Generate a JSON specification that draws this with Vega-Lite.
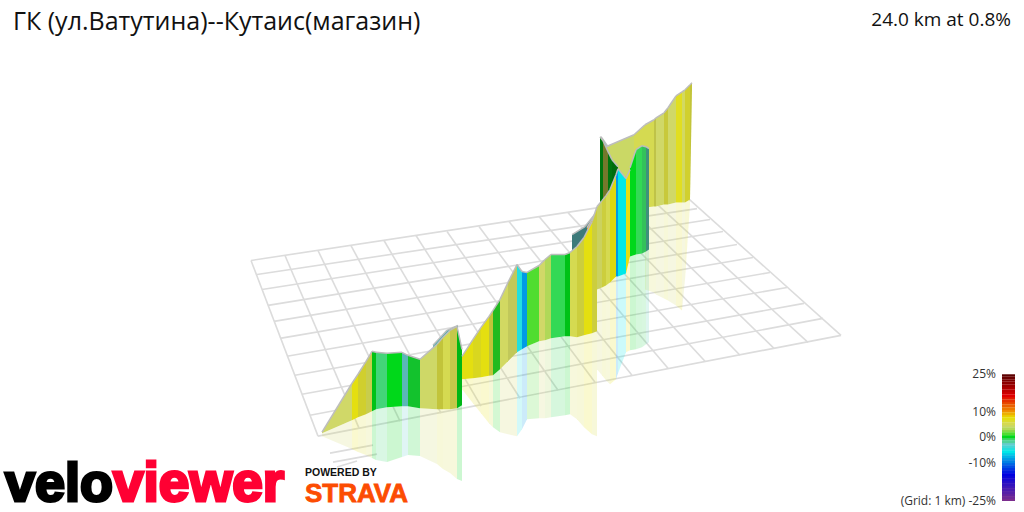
{
  "$schema": "https://vega.github.io/schema/vega-lite/v6.json",
  "width": 1024, "height": 512,
  "autosize": {"type": "fit", "contains": "padding"},
  "padding": 0,
  "background": "white",
  "config": {"view": {"stroke": null}},
  "datasets": {
    "grid": [
      {"l":"c0","x":251,"y":261},{"l":"c0","x":318,"y":437},
      {"l":"c1","x":285,"y":256},{"l":"c1","x":359,"y":429},
      {"l":"c2","x":318,"y":251},{"l":"c2","x":400,"y":422},
      {"l":"c3","x":351,"y":246},{"l":"c3","x":441,"y":414},
      {"l":"c4","x":384,"y":241},{"l":"c4","x":481,"y":407},
      {"l":"c5","x":416,"y":236},{"l":"c5","x":520,"y":399},
      {"l":"c6","x":447,"y":232},{"l":"c6","x":558,"y":391},
      {"l":"c7","x":479,"y":227},{"l":"c7","x":595,"y":383},
      {"l":"c8","x":509,"y":222},{"l":"c8","x":632,"y":376},
      {"l":"c9","x":539,"y":217},{"l":"c9","x":668,"y":369},
      {"l":"c10","x":568,"y":213},{"l":"c10","x":705,"y":362},
      {"l":"c11","x":597,"y":208},{"l":"c11","x":740,"y":356},
      {"l":"c12","x":625,"y":204},{"l":"c12","x":774,"y":349},
      {"l":"c13","x":652,"y":200},{"l":"c13","x":808,"y":343},
      {"l":"c14","x":684,"y":195},{"l":"c14","x":841,"y":336},
      {"l":"r0","x":251,"y":261},{"l":"r0","x":684,"y":195},
      {"l":"r1","x":257,"y":275},{"l":"r1","x":697,"y":209},
      {"l":"r2","x":262,"y":290},{"l":"r2","x":710,"y":220},
      {"l":"r3","x":268,"y":306},{"l":"r3","x":723,"y":232},
      {"l":"r4","x":274,"y":322},{"l":"r4","x":737,"y":245},
      {"l":"r5","x":280,"y":339},{"l":"r5","x":753,"y":258},
      {"l":"r6","x":287,"y":357},{"l":"r6","x":770,"y":273},
      {"l":"r7","x":295,"y":376},{"l":"r7","x":787,"y":288},
      {"l":"r8","x":302,"y":395},{"l":"r8","x":804,"y":304},
      {"l":"r9","x":310,"y":416},{"l":"r9","x":823,"y":319},
      {"l":"r10","x":318,"y":437},{"l":"r10","x":841,"y":336},
      {"l":"z1","x":330,"y":454},{"l":"z1","x":373,"y":446},
      {"l":"z2","x":333,"y":463},{"l":"z2","x":377,"y":455},
      {"l":"z3","x":337,"y":468},{"l":"z3","x":357,"y":462}
    ],
    "ribbon": [
      {"s":"f1","d":0,"g":-4,"k":0.2,"x":433,"t":346,"b":360,"r":360},{"s":"f1","d":0,"g":-4,"k":0.2,"x":447,"t":331,"b":350,"r":350},
      {"s":"f2","d":0,"g":-4,"k":0.2,"x":447,"t":331,"b":350,"r":350},{"s":"f2","d":0,"g":-4,"k":0.2,"x":458,"t":326,"b":345,"r":345},
      {"s":"f3","d":0,"g":-3,"k":0.4,"x":572,"t":235,"b":255,"r":255},{"s":"f3","d":0,"g":-3,"k":0.4,"x":585,"t":227,"b":255,"r":255},
      {"s":"f4","d":0,"g":-3,"k":0.4,"x":585,"t":227,"b":255,"r":255},{"s":"f4","d":0,"g":-3,"k":0.4,"x":597,"t":212,"b":255,"r":255},
      {"s":"f5","d":0,"g":-4,"k":0,"x":601,"t":137,"b":165,"r":165},{"s":"f5","d":0,"g":-4,"k":0,"x":608,"t":147,"b":165,"r":165},
      {"s":"d1","d":0,"g":4.0,"k":0,"x":606,"t":147,"b":210,"r":210},{"s":"d1","d":0,"g":4.0,"k":0,"x":634,"t":135,"b":208,"r":208},
      {"s":"d2","d":0,"g":5,"k":0,"x":634,"t":135,"b":208,"r":208},{"s":"d2","d":0,"g":5,"k":0,"x":645,"t":125,"b":208,"r":208},
      {"s":"d3","d":0,"g":5,"k":0,"x":645,"t":125,"b":208,"r":290},{"s":"d3","d":0,"g":5,"k":0,"x":654,"t":120,"b":207,"r":293},
      {"s":"d4","d":0,"g":5,"k":0.1,"x":654,"t":120,"b":207,"r":293},{"s":"d4","d":0,"g":5,"k":0.1,"x":656,"t":118,"b":207,"r":295},
      {"s":"d5","d":0,"g":4.3,"k":0,"x":656,"t":118,"b":207,"r":295},{"s":"d5","d":0,"g":4.3,"k":0,"x":664,"t":113,"b":205,"r":299},
      {"s":"d6","d":0,"g":5.5,"k":0.08,"x":664,"t":113,"b":205,"r":299},{"s":"d6","d":0,"g":5.5,"k":0.08,"x":668,"t":108,"b":205,"r":301},
      {"s":"d7","d":0,"g":4.3,"k":0,"x":668,"t":108,"b":205,"r":301},{"s":"d7","d":0,"g":4.3,"k":0,"x":676,"t":96,"b":203,"r":306},
      {"s":"d8","d":0,"g":6.5,"k":0,"x":676,"t":96,"b":203,"r":306},{"s":"d8","d":0,"g":6.5,"k":0,"x":682,"t":92,"b":203,"r":311},
      {"s":"d9","d":0,"g":4.5,"k":0,"x":682,"t":92,"b":203,"r":311},{"s":"d9","d":0,"g":4.5,"k":0,"x":685,"t":90,"b":203,"r":280},
      {"s":"d10","d":0,"g":6,"k":0.05,"x":685,"t":90,"b":203,"r":280},{"s":"d10","d":0,"g":6,"k":0.05,"x":690,"t":85,"b":200,"r":205},
      {"s":"d11","d":0,"g":5.5,"k":0.1,"x":690,"t":85,"b":200,"r":200},{"s":"d11","d":0,"g":5.5,"k":0.1,"x":692,"t":83,"b":90,"r":90},

      {"s":"e1","d":1,"g":0,"k":0.45,"x":600,"t":137,"b":203,"r":203},{"s":"e1","d":1,"g":0,"k":0.45,"x":603,"t":141,"b":203,"r":203},
      {"s":"e2","d":1,"g":5,"k":0.45,"x":603,"t":141,"b":203,"r":203},{"s":"e2","d":1,"g":5,"k":0.45,"x":608,"t":152,"b":204,"r":204},
      {"s":"e3","d":1,"g":0,"k":0.45,"x":608,"t":152,"b":204,"r":204},{"s":"e3","d":1,"g":0,"k":0.45,"x":612,"t":160,"b":204,"r":204},
      {"s":"e4","d":1,"g":0,"k":0.5,"x":612,"t":160,"b":204,"r":204},{"s":"e4","d":1,"g":0,"k":0.5,"x":618,"t":167,"b":205,"r":205},
      {"s":"e5","d":1,"g":10,"k":0,"x":587,"t":228,"b":245,"r":245},{"s":"e5","d":1,"g":10,"k":0,"x":595,"t":215,"b":245,"r":245},

      {"s":"a1","d":2,"g":4.3,"k":0,"x":322,"t":433,"b":434,"r":437},{"s":"a1","d":2,"g":4.3,"k":0,"x":352,"t":384,"b":421,"r":450},
      {"s":"a2","d":2,"g":7,"k":0,"x":352,"t":384,"b":421,"r":450},{"s":"a2","d":2,"g":7,"k":0,"x":358,"t":375,"b":418,"r":453},
      {"s":"a3","d":2,"g":6,"k":0.06,"x":358,"t":375,"b":418,"r":453},{"s":"a3","d":2,"g":6,"k":0.06,"x":366,"t":362,"b":415,"r":456},
      {"s":"a4","d":2,"g":5,"k":0.06,"x":366,"t":362,"b":415,"r":456},{"s":"a4","d":2,"g":5,"k":0.06,"x":372,"t":352,"b":412,"r":459},
      {"s":"a5","d":2,"g":0,"k":0.1,"x":372,"t":352,"b":412,"r":459},{"s":"a5","d":2,"g":0,"k":0.1,"x":376,"t":353,"b":410,"r":461},
      {"s":"a6","d":2,"g":-1.4,"k":0,"x":376,"t":353,"b":410,"r":461},{"s":"a6","d":2,"g":-1.4,"k":0,"x":387,"t":354,"b":408,"r":463},
      {"s":"a7","d":2,"g":0,"k":0,"x":387,"t":354,"b":408,"r":463},{"s":"a7","d":2,"g":0,"k":0,"x":402,"t":353,"b":407,"r":458},
      {"s":"a8","d":2,"g":-3,"k":0.1,"x":402,"t":353,"b":407,"r":458},{"s":"a8","d":2,"g":-3,"k":0.1,"x":408,"t":356,"b":407,"r":456},
      {"s":"a9","d":2,"g":-0.3,"k":0.1,"x":408,"t":356,"b":407,"r":456},{"s":"a9","d":2,"g":-0.3,"k":0.1,"x":420,"t":360,"b":409,"r":457},
      {"s":"a10","d":2,"g":4.2,"k":0,"x":420,"t":360,"b":409,"r":457},{"s":"a10","d":2,"g":4.2,"k":0,"x":437,"t":345,"b":410,"r":465},
      {"s":"a11","d":2,"g":5.5,"k":0.1,"x":437,"t":345,"b":410,"r":465},{"s":"a11","d":2,"g":5.5,"k":0.1,"x":443,"t":338,"b":410,"r":470},
      {"s":"a12","d":2,"g":5,"k":0,"x":443,"t":338,"b":410,"r":470},{"s":"a12","d":2,"g":5,"k":0,"x":450,"t":331,"b":410,"r":474},
      {"s":"a13","d":2,"g":5,"k":0.08,"x":450,"t":331,"b":410,"r":474},{"s":"a13","d":2,"g":5,"k":0.08,"x":457,"t":327,"b":409,"r":480},
      {"s":"a14","d":2,"g":0,"k":0.15,"x":457,"t":327,"b":409,"r":480},{"s":"a14","d":2,"g":0,"k":0.15,"x":462,"t":350,"b":406,"r":482},

      {"s":"b1","d":2,"g":7,"k":0,"x":462,"t":357,"b":380,"r":390},{"s":"b1","d":2,"g":7,"k":0,"x":473,"t":340,"b":379,"r":404},
      {"s":"b2","d":2,"g":6.5,"k":0.03,"x":473,"t":340,"b":379,"r":404},{"s":"b2","d":2,"g":6.5,"k":0.03,"x":481,"t":328,"b":378,"r":414},
      {"s":"b3","d":2,"g":7,"k":0,"x":481,"t":328,"b":378,"r":414},{"s":"b3","d":2,"g":7,"k":0,"x":489,"t":317,"b":376.5,"r":424},
      {"s":"b4","d":2,"g":5.5,"k":0.1,"x":489,"t":317,"b":376.5,"r":424},{"s":"b4","d":2,"g":5.5,"k":0.1,"x":493,"t":311,"b":376,"r":428},
      {"s":"b5","d":2,"g":0.5,"k":0.15,"x":493,"t":311,"b":376,"r":428},{"s":"b5","d":2,"g":0.5,"k":0.15,"x":500,"t":300,"b":370,"r":433},
      {"s":"b6","d":2,"g":4.5,"k":0,"x":500,"t":300,"b":370,"r":433},{"s":"b6","d":2,"g":4.5,"k":0,"x":508,"t":283,"b":362,"r":435},
      {"s":"b7","d":2,"g":4.5,"k":0.08,"x":508,"t":283,"b":362,"r":435},{"s":"b7","d":2,"g":4.5,"k":0.08,"x":517,"t":265,"b":353,"r":437},
      {"s":"b8","d":2,"g":-5,"k":0,"x":517,"t":265,"b":353,"r":437},{"s":"b8","d":2,"g":-5,"k":0,"x":522,"t":272,"b":350,"r":430},
      {"s":"b9","d":2,"g":-9,"k":0,"x":522,"t":272,"b":350,"r":430},{"s":"b9","d":2,"g":-9,"k":0,"x":527,"t":273,"b":347,"r":420},
      {"s":"b10","d":2,"g":1,"k":0,"x":527,"t":273,"b":347,"r":420},{"s":"b10","d":2,"g":1,"k":0,"x":539,"t":266,"b":342,"r":419},
      {"s":"b11","d":2,"g":4.3,"k":0,"x":539,"t":266,"b":342,"r":419},{"s":"b11","d":2,"g":4.3,"k":0,"x":545,"t":260,"b":341,"r":419},
      {"s":"b12","d":2,"g":2.8,"k":0,"x":545,"t":260,"b":341,"r":419},{"s":"b12","d":2,"g":2.8,"k":0,"x":551,"t":255,"b":339,"r":418},
      {"s":"b13","d":2,"g":-0.7,"k":0,"x":551,"t":255,"b":339,"r":418},{"s":"b13","d":2,"g":-0.7,"k":0,"x":565,"t":255,"b":337,"r":416},
      {"s":"b14","d":2,"g":0,"k":0.1,"x":565,"t":255,"b":337,"r":416},{"s":"b14","d":2,"g":0,"k":0.1,"x":570,"t":253,"b":337,"r":415},
      {"s":"b15","d":2,"g":5,"k":0,"x":570,"t":253,"b":337,"r":415},{"s":"b15","d":2,"g":5,"k":0,"x":577,"t":247,"b":338,"r":420},
      {"s":"b16","d":2,"g":5.5,"k":0.06,"x":577,"t":247,"b":338,"r":420},{"s":"b16","d":2,"g":5.5,"k":0.06,"x":584,"t":238,"b":336,"r":428},
      {"s":"b17","d":2,"g":7,"k":0,"x":584,"t":238,"b":336,"r":428},{"s":"b17","d":2,"g":7,"k":0,"x":592,"t":222,"b":334,"r":435},
      {"s":"b18","d":2,"g":5.5,"k":0.06,"x":592,"t":222,"b":334,"r":435},{"s":"b18","d":2,"g":5.5,"k":0.06,"x":597,"t":207,"b":332,"r":437},

      {"s":"c1","d":2,"g":4.5,"k":0.03,"x":597,"t":207,"b":290,"r":370},{"s":"c1","d":2,"g":4.5,"k":0.03,"x":602,"t":201,"b":288,"r":376},
      {"s":"c2","d":2,"g":5.5,"k":0.06,"x":602,"t":201,"b":288,"r":376},{"s":"c2","d":2,"g":5.5,"k":0.06,"x":606,"t":196,"b":286,"r":381},
      {"s":"c3","d":2,"g":5,"k":0,"x":606,"t":196,"b":286,"r":381},{"s":"c3","d":2,"g":5,"k":0,"x":610,"t":190,"b":283,"r":385},
      {"s":"c4","d":2,"g":7,"k":0.03,"x":610,"t":190,"b":283,"r":385},{"s":"c4","d":2,"g":7,"k":0.03,"x":616,"t":175,"b":277,"r":380},
      {"s":"c5","d":2,"g":-9,"k":0,"x":616,"t":175,"b":277,"r":380},{"s":"c5","d":2,"g":-9,"k":0,"x":618,"t":169,"b":277,"r":374},
      {"s":"c6","d":2,"g":-6,"k":0,"x":618,"t":169,"b":277,"r":374},{"s":"c6","d":2,"g":-6,"k":0,"x":626,"t":179,"b":274,"r":353},
      {"s":"c8","d":2,"g":7,"k":0,"x":626,"t":179,"b":274,"r":353},{"s":"c8","d":2,"g":7,"k":0,"x":630,"t":170,"b":257,"r":351},
      {"s":"c9","d":2,"g":0,"k":0,"x":630,"t":168,"b":257,"r":351},{"s":"c9","d":2,"g":0,"k":0,"x":636,"t":150,"b":255,"r":350},
      {"s":"c10","d":2,"g":-0.7,"k":0,"x":636,"t":150,"b":255,"r":350},{"s":"c10","d":2,"g":-0.7,"k":0,"x":642,"t":146,"b":254,"r":348},
      {"s":"c11","d":2,"g":-1,"k":0.1,"x":642,"t":146,"b":254,"r":348},{"s":"c11","d":2,"g":-1,"k":0.1,"x":646,"t":147,"b":252,"r":345},
      {"s":"c12","d":2,"g":-2.5,"k":0.3,"x":646,"t":147,"b":252,"r":345},{"s":"c12","d":2,"g":-2.5,"k":0.3,"x":649,"t":149,"b":250,"r":343}
    ],
    "scale": [
      {"g":-25,"x":1002,"x2":1015,"y":502,"y2":499},{"g":-24,"x":1002,"x2":1015,"y":500,"y2":497},{"g":-23,"x":1002,"x2":1015,"y":497,"y2":494},{"g":-22,"x":1002,"x2":1015,"y":495,"y2":492},{"g":-21,"x":1002,"x2":1015,"y":492,"y2":489},
      {"g":-20,"x":1002,"x2":1015,"y":489,"y2":486},{"g":-19,"x":1002,"x2":1015,"y":487,"y2":484},{"g":-18,"x":1002,"x2":1015,"y":484,"y2":481},{"g":-17,"x":1002,"x2":1015,"y":482,"y2":479},{"g":-16,"x":1002,"x2":1015,"y":479,"y2":476},
      {"g":-15,"x":1002,"x2":1015,"y":477,"y2":474},{"g":-14,"x":1002,"x2":1015,"y":474,"y2":471},{"g":-13,"x":1002,"x2":1015,"y":471,"y2":468},{"g":-12,"x":1002,"x2":1015,"y":469,"y2":466},{"g":-11,"x":1002,"x2":1015,"y":466,"y2":463},
      {"g":-10,"x":1002,"x2":1015,"y":464,"y2":461},{"g":-9,"x":1002,"x2":1015,"y":461,"y2":458},{"g":-8,"x":1002,"x2":1015,"y":459,"y2":456},{"g":-7,"x":1002,"x2":1015,"y":456,"y2":453},{"g":-6,"x":1002,"x2":1015,"y":454,"y2":451},
      {"g":-5,"x":1002,"x2":1015,"y":451,"y2":448},{"g":-4,"x":1002,"x2":1015,"y":449,"y2":446},{"g":-3,"x":1002,"x2":1015,"y":446,"y2":443},{"g":-2,"x":1002,"x2":1015,"y":444,"y2":441},{"g":-1,"x":1002,"x2":1015,"y":441,"y2":438},
      {"g":0,"x":1002,"x2":1015,"y":439,"y2":436},{"g":1,"x":1002,"x2":1015,"y":436,"y2":433},{"g":2,"x":1002,"x2":1015,"y":433,"y2":430},{"g":3,"x":1002,"x2":1015,"y":431,"y2":428},{"g":4,"x":1002,"x2":1015,"y":428,"y2":425},
      {"g":5,"x":1002,"x2":1015,"y":426,"y2":423},{"g":6,"x":1002,"x2":1015,"y":423,"y2":420},{"g":7,"x":1002,"x2":1015,"y":421,"y2":418},{"g":8,"x":1002,"x2":1015,"y":418,"y2":415},{"g":9,"x":1002,"x2":1015,"y":416,"y2":413},
      {"g":10,"x":1002,"x2":1015,"y":413,"y2":410},{"g":11,"x":1002,"x2":1015,"y":411,"y2":408},{"g":12,"x":1002,"x2":1015,"y":408,"y2":405},{"g":13,"x":1002,"x2":1015,"y":405,"y2":402},{"g":14,"x":1002,"x2":1015,"y":403,"y2":400},
      {"g":15,"x":1002,"x2":1015,"y":400,"y2":397},{"g":16,"x":1002,"x2":1015,"y":398,"y2":395},{"g":17,"x":1002,"x2":1015,"y":395,"y2":392},{"g":18,"x":1002,"x2":1015,"y":393,"y2":390},{"g":19,"x":1002,"x2":1015,"y":390,"y2":387},
      {"g":20,"x":1002,"x2":1015,"y":388,"y2":385},{"g":21,"x":1002,"x2":1015,"y":385,"y2":382},{"g":22,"x":1002,"x2":1015,"y":382,"y2":380},{"g":23,"x":1002,"x2":1015,"y":380,"y2":377},{"g":24,"x":1002,"x2":1015,"y":377,"y2":375}
    ]
  },
  "encoding": {
    "x": {"field": "x", "type": "quantitative", "axis": null, "scale": {"domain": [0, 1024]}},
    "y": {"field": "y", "type": "quantitative", "axis": null, "scale": {"domain": [512, 0]}}
  },
  "layer": [
    {
      "data": {"name": "grid"},
      "mark": {"type": "line", "stroke": "#dcdcdc", "strokeWidth": 1.6},
      "encoding": {"detail": {"field": "l"}}
    },
    {
      "data": {"name": "ribbon"},
      "mark": {"type": "area", "orient": "vertical", "opacity": 0.2},
      "encoding": {
        "y": {"field": "b", "type": "quantitative", "axis": null, "scale": {"domain": [512, 0]}},
        "y2": {"field": "r"},
        "detail": {"field": "s"},
        "color": {"field": "g", "type": "quantitative", "legend": null, "scale": {"interpolate": "rgb", "domain": [-25, -15, -6, -3, -0.7, 0, 1, 2.8, 4.3, 7.5, 10, 16, 25], "range": ["#7b2d8e", "#0000e0", "#00e8e8", "#66cccc", "#33d955", "#00d81a", "#50dd30", "#b0d858", "#d0d868", "#e8e000", "#f09000", "#e00000", "#4a0000"]}}
      }
    },
    {
      "data": {"name": "ribbon"},
      "transform": [{"filter": "datum.d == 0"}],
      "layer": [
        {
          "mark": {"type": "area", "orient": "vertical"},
          "encoding": {
            "y": {"field": "t", "type": "quantitative", "axis": null, "scale": {"domain": [512, 0]}},
            "y2": {"field": "b"},
            "detail": {"field": "s"},
            "color": {"field": "g", "type": "quantitative", "legend": null, "scale": {"interpolate": "rgb", "domain": [-25, -15, -6, -3, -0.7, 0, 1, 2.8, 4.3, 7.5, 10, 16, 25], "range": ["#7b2d8e", "#0000e0", "#00e8e8", "#66cccc", "#33d955", "#00d81a", "#50dd30", "#b0d858", "#d0d868", "#e8e000", "#f09000", "#e00000", "#4a0000"]}}
          }
        },
        {
          "mark": {"type": "area", "orient": "vertical", "color": "black"},
          "encoding": {
            "y": {"field": "t", "type": "quantitative", "axis": null, "scale": {"domain": [512, 0]}},
            "y2": {"field": "b"},
            "detail": {"field": "s"},
            "opacity": {"field": "k", "type": "quantitative", "legend": null, "scale": {"domain": [0, 1], "range": [0, 1]}}
          }
        },
        {
          "mark": {"type": "line", "stroke": "#bdbdbd", "strokeWidth": 1.5},
          "encoding": {
            "y": {"field": "t", "type": "quantitative", "axis": null, "scale": {"domain": [512, 0]}},
            "detail": {"field": "s"}
          }
        }
      ]
    },
    {
      "data": {"name": "ribbon"},
      "transform": [{"filter": "datum.d == 1"}],
      "layer": [
        {
          "mark": {"type": "area", "orient": "vertical"},
          "encoding": {
            "y": {"field": "t", "type": "quantitative", "axis": null, "scale": {"domain": [512, 0]}},
            "y2": {"field": "b"},
            "detail": {"field": "s"},
            "color": {"field": "g", "type": "quantitative", "legend": null, "scale": {"interpolate": "rgb", "domain": [-25, -15, -6, -3, -0.7, 0, 1, 2.8, 4.3, 7.5, 10, 16, 25], "range": ["#7b2d8e", "#0000e0", "#00e8e8", "#66cccc", "#33d955", "#00d81a", "#50dd30", "#b0d858", "#d0d868", "#e8e000", "#f09000", "#e00000", "#4a0000"]}}
          }
        },
        {
          "mark": {"type": "area", "orient": "vertical", "color": "black"},
          "encoding": {
            "y": {"field": "t", "type": "quantitative", "axis": null, "scale": {"domain": [512, 0]}},
            "y2": {"field": "b"},
            "detail": {"field": "s"},
            "opacity": {"field": "k", "type": "quantitative", "legend": null, "scale": {"domain": [0, 1], "range": [0, 1]}}
          }
        },
        {
          "mark": {"type": "line", "stroke": "#bdbdbd", "strokeWidth": 1.5},
          "encoding": {
            "y": {"field": "t", "type": "quantitative", "axis": null, "scale": {"domain": [512, 0]}},
            "detail": {"field": "s"}
          }
        }
      ]
    },
    {
      "data": {"name": "ribbon"},
      "transform": [{"filter": "datum.d == 2"}],
      "layer": [
        {
          "mark": {"type": "area", "orient": "vertical"},
          "encoding": {
            "y": {"field": "t", "type": "quantitative", "axis": null, "scale": {"domain": [512, 0]}},
            "y2": {"field": "b"},
            "detail": {"field": "s"},
            "color": {"field": "g", "type": "quantitative", "legend": null, "scale": {"interpolate": "rgb", "domain": [-25, -15, -6, -3, -0.7, 0, 1, 2.8, 4.3, 7.5, 10, 16, 25], "range": ["#7b2d8e", "#0000e0", "#00e8e8", "#66cccc", "#33d955", "#00d81a", "#50dd30", "#b0d858", "#d0d868", "#e8e000", "#f09000", "#e00000", "#4a0000"]}}
          }
        },
        {
          "mark": {"type": "area", "orient": "vertical", "color": "black"},
          "encoding": {
            "y": {"field": "t", "type": "quantitative", "axis": null, "scale": {"domain": [512, 0]}},
            "y2": {"field": "b"},
            "detail": {"field": "s"},
            "opacity": {"field": "k", "type": "quantitative", "legend": null, "scale": {"domain": [0, 1], "range": [0, 1]}}
          }
        },
        {
          "mark": {"type": "line", "stroke": "#bdbdbd", "strokeWidth": 1.5},
          "encoding": {
            "y": {"field": "t", "type": "quantitative", "axis": null, "scale": {"domain": [512, 0]}},
            "detail": {"field": "s"}
          }
        }
      ]
    },
    {
      "data": {"values": [{"x": 13, "y": 22, "text": "ГК (ул.Ватутина)--Кутаис(магазин)"}]},
      "mark": {"type": "text", "align": "left", "baseline": "middle", "font": "Open Sans", "fontSize": 25, "color": "#111"},
      "encoding": {"text": {"field": "text"}}
    },
    {
      "data": {"values": [{"x": 1011, "y": 20, "text": "24.0 km at 0.8%"}]},
      "mark": {"type": "text", "align": "right", "baseline": "middle", "font": "Open Sans", "fontSize": 19, "color": "#111"},
      "encoding": {"text": {"field": "text"}}
    },
    {
      "data": {"values": [{"x": 5, "y": 502, "text": "velo"}]},
      "mark": {"type": "text", "align": "left", "baseline": "alphabetic", "font": "Liberation Sans", "fontWeight": "bold", "fontSize": 54, "color": "#000", "stroke": "#000", "strokeWidth": 3},
      "encoding": {"text": {"field": "text"}}
    },
    {
      "data": {"values": [{"x": 113, "y": 502, "text": "viewer"}]},
      "mark": {"type": "text", "align": "left", "baseline": "alphabetic", "font": "Liberation Sans", "fontWeight": "bold", "fontSize": 55, "color": "#ff0033", "stroke": "#ff0033", "strokeWidth": 3},
      "encoding": {"text": {"field": "text"}}
    },
    {
      "data": {"values": [{"x": 305, "y": 477, "text": "POWERED BY"}]},
      "mark": {"type": "text", "align": "left", "baseline": "alphabetic", "font": "Liberation Sans", "fontWeight": "bold", "fontSize": 10.5, "color": "#111"},
      "encoding": {"text": {"field": "text"}}
    },
    {
      "data": {"values": [{"x": 305, "y": 503, "text": "STRAVA"}]},
      "mark": {"type": "text", "align": "left", "baseline": "alphabetic", "font": "Liberation Sans", "fontWeight": "bold", "fontSize": 26, "color": "#fc4c02", "stroke": "#fc4c02", "strokeWidth": 0.8},
      "encoding": {"text": {"field": "text"}}
    },
    {
      "data": {"name": "scale"},
      "mark": {"type": "rect"},
      "encoding": {
        "x2": {"field": "x2"},
        "y2": {"field": "y2"},
        "color": {"field": "g", "type": "quantitative", "legend": null, "scale": {"interpolate": "rgb", "domain": [-25, -15, -6, -3, -0.7, 0, 1, 2.8, 4.3, 7.5, 10, 16, 25], "range": ["#7b2d8e", "#0000e0", "#00e8e8", "#66cccc", "#33d955", "#00d81a", "#50dd30", "#b0d858", "#d0d868", "#e8e000", "#f09000", "#e00000", "#4a0000"]}}
      }
    },
    {
      "data": {"values": [
        {"x": 996, "y": 375, "label": "25%"}, {"x": 996, "y": 413, "label": "10%"}, {"x": 996, "y": 438, "label": "0%"}, {"x": 996, "y": 464, "label": "-10%"}, {"x": 996, "y": 502, "label": "(Grid: 1 km) -25%"}
      ]},
      "mark": {"type": "text", "align": "right", "baseline": "middle", "font": "Open Sans", "fontSize": 12, "color": "#333"},
      "encoding": {"text": {"field": "label"}}
    }
  ]
}
